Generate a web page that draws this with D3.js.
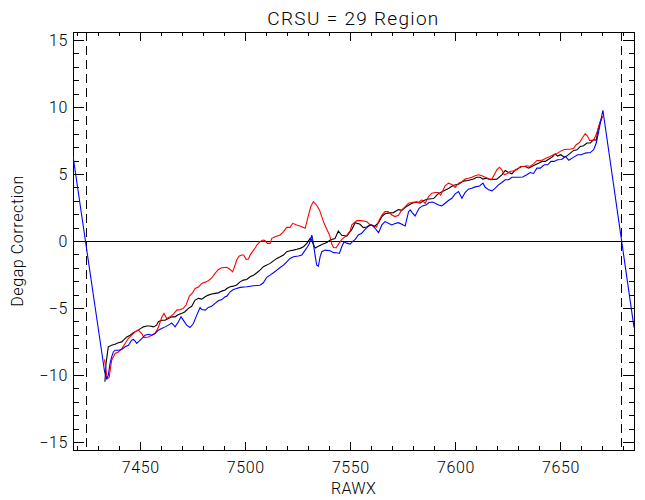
<!DOCTYPE html>
<html>
<head>
<meta charset="utf-8">
<script src="https://cdn.jsdelivr.net/npm/d3@7"></script>
<style>
  html, body { margin: 0; padding: 0; background: #fff; }
  svg { display: block; }
  text { font-family: Roboto, "Liberation Sans", Arial, sans-serif; font-weight: 300; fill: #000; }
</style>
</head>
<body>
<svg id="chart" width="645" height="500"></svg>
<script>
// ---------------- data ----------------
const titleText = "CRSU = 29 Region";
const xLabel = "RAWX";
const yLabel = "Degap Correction";
const xDomain = [7418, 7685];
const yDomain = [-15.6, 15.6];
const xMajorTicks = [7450, 7500, 7550, 7600, 7650];
const yMajorTicks = [-15, -10, -5, 0, 5, 10, 15];
const gapLines = [7424, 7679];

const blackSeries = [
[7433.2,-10.50],[7433.7,-9.15],[7434.8,-7.90],[7436.4,-7.78],[7438.0,-7.71],[7439.6,-7.60],[7441.2,-7.53],
[7442.4,-7.35],[7443.6,-7.16],[7445.2,-7.03],[7446.7,-6.85],[7448.3,-6.71],[7449.9,-6.56],[7451.5,-6.41],
[7453.1,-6.35],[7454.7,-6.35],[7456.3,-6.41],[7457.8,-6.28],[7458.6,-6.03],[7460.2,-5.91],[7461.8,-5.91],
[7463.4,-5.78],[7465.0,-5.66],[7466.6,-5.66],[7468.2,-5.49],[7469.7,-5.41],[7471.3,-5.28],[7472.9,-5.03],
[7474.5,-4.87],[7476.1,-4.41],[7477.7,-4.28],[7479.3,-4.34],[7480.9,-4.16],[7482.4,-4.04],[7484.0,-3.96],
[7485.6,-3.91],[7487.2,-3.87],[7488.8,-3.74],[7490.4,-3.66],[7491.2,-3.55],[7492.8,-3.42],[7494.3,-3.37],
[7495.9,-3.28],[7497.5,-3.05],[7499.1,-2.92],[7500.7,-2.87],[7502.3,-2.67],[7503.9,-2.55],[7505.5,-2.37],
[7507.0,-2.17],[7508.6,-1.92],[7510.2,-1.80],[7511.8,-1.67],[7513.4,-1.48],[7515.0,-1.30],[7516.6,-1.18],
[7518.2,-1.05],[7519.7,-0.80],[7521.3,-0.73],[7522.9,-0.68],[7524.5,-0.62],[7526.1,-0.55],[7527.7,-0.43],
[7529.3,-0.18],[7530.9,0.21],[7531.7,0.05],[7532.5,-0.31],[7533.3,-0.52],[7535.0,-0.37],[7536.7,-0.25],
[7538.8,-0.12],[7540.4,0.07],[7542.7,0.18],[7544.3,0.75],[7545.9,0.43],[7548.3,0.37],[7550.7,0.87],
[7552.3,1.37],[7554.6,1.25],[7556.2,1.00],[7557.8,1.04],[7559.4,1.20],[7561.8,1.12],[7563.4,1.37],
[7565.0,1.82],[7566.5,2.03],[7568.1,2.08],[7570.5,2.12],[7572.9,2.34],[7574.5,2.29],[7576.9,2.60],
[7579.3,2.82],[7581.6,2.92],[7583.2,2.82],[7584.8,3.00],[7586.4,3.12],[7589.6,3.17],[7591.9,3.54],
[7594.3,3.74],[7596.7,3.92],[7599.1,4.16],[7601.5,4.24],[7603.8,4.47],[7606.0,4.52],[7608.6,4.63],
[7610.2,4.76],[7611.8,4.76],[7613.1,4.62],[7615.0,4.69],[7616.6,4.57],[7619.7,4.62],[7622.1,4.94],
[7623.7,5.26],[7625.3,5.11],[7626.9,5.01],[7628.5,5.31],[7630.1,5.44],[7631.7,5.56],[7633.3,5.56],
[7634.8,5.44],[7636.4,5.56],[7638.0,5.69],[7639.6,5.81],[7641.2,5.94],[7642.8,5.94],[7644.4,6.10],
[7646.0,6.26],[7647.5,6.51],[7648.6,6.34],[7650.2,6.44],[7651.8,6.26],[7653.0,6.34],[7654.7,6.56],
[7656.3,6.76],[7657.9,6.81],[7659.4,7.06],[7661.0,7.11],[7662.6,7.31],[7664.2,7.31],[7665.8,7.56],
[7667.05,7.51],[7667.7,8.18],[7669.0,8.92],[7669.9,9.31]
];

const redSeries = [
[7433.0,-8.84],[7434.3,-10.28],[7435.2,-10.19],[7436.4,-8.90],[7438.0,-8.40],[7439.6,-8.28],[7441.2,-8.03],
[7442.8,-7.65],[7444.3,-7.28],[7445.9,-7.03],[7447.5,-6.78],[7449.1,-6.66],[7450.7,-6.91],[7451.8,-7.21],
[7453.9,-7.16],[7455.5,-7.03],[7457.0,-6.91],[7458.6,-6.46],[7460.2,-5.71],[7461.3,-5.41],[7462.6,-5.78],
[7464.2,-5.66],[7465.8,-5.46],[7467.4,-5.16],[7469.0,-5.12],[7470.5,-5.03],[7471.8,-4.78],[7473.4,-4.11],
[7475.0,-3.85],[7476.1,-3.54],[7477.7,-3.43],[7479.3,-3.17],[7480.9,-3.07],[7482.4,-2.96],[7484.0,-2.76],
[7485.6,-2.42],[7487.2,-2.12],[7488.8,-2.00],[7490.4,-1.98],[7491.2,-1.97],[7492.8,-2.13],[7494.0,-2.30],
[7495.0,-1.87],[7495.9,-1.42],[7497.0,-1.14],[7498.3,-1.05],[7499.2,-1.05],[7500.4,-1.37],[7501.5,-1.35],
[7502.3,-1.05],[7503.9,-0.68],[7504.7,-0.52],[7505.5,-0.30],[7507.0,-0.05],[7508.3,0.07],[7509.4,0.03],
[7510.5,-0.18],[7511.8,-0.18],[7512.6,0.20],[7514.2,0.32],[7516.6,0.45],[7518.2,0.70],[7519.7,1.02],
[7521.3,1.02],[7522.6,1.32],[7524.5,1.20],[7526.9,1.07],[7528.5,0.95],[7529.3,1.45],[7530.1,1.94],
[7531.2,2.57],[7532.4,2.94],[7533.9,2.69],[7535.3,2.32],[7536.4,1.82],[7537.5,1.32],[7538.8,0.87],
[7540.1,0.45],[7541.2,-0.25],[7542.0,-0.48],[7543.2,-0.50],[7544.3,-0.25],[7545.9,0.12],[7548.3,0.42],
[7549.9,0.75],[7550.7,1.20],[7553.1,1.52],[7555.0,1.52],[7557.8,1.45],[7559.4,1.20],[7561.0,1.12],
[7562.5,1.04],[7563.4,1.45],[7565.0,1.94],[7566.5,2.19],[7568.0,2.19],[7569.7,1.94],[7571.3,1.82],
[7572.9,1.92],[7574.5,2.32],[7576.1,2.57],[7577.7,2.82],[7579.2,2.87],[7580.8,2.91],[7582.4,2.87],
[7584.0,3.07],[7585.6,2.82],[7587.2,3.32],[7588.8,3.57],[7590.4,3.62],[7591.9,3.62],[7593.0,3.43],
[7595.1,4.12],[7596.7,4.32],[7598.3,4.21],[7599.9,4.00],[7601.5,4.32],[7603.1,4.42],[7604.6,4.62],
[7606.2,4.68],[7607.8,4.76],[7609.4,4.87],[7611.0,4.94],[7612.6,4.87],[7614.2,4.76],[7615.8,4.62],
[7617.4,4.62],[7618.5,4.94],[7619.7,5.31],[7621.0,5.51],[7622.1,5.31],[7623.2,4.94],[7624.8,5.04],
[7626.1,5.19],[7627.7,5.25],[7629.3,5.31],[7630.9,5.56],[7632.5,5.56],[7634.0,5.62],[7635.6,5.56],
[7637.2,5.76],[7638.8,6.01],[7640.4,6.01],[7641.7,6.06],[7643.3,6.19],[7645.1,6.31],[7646.7,6.44],
[7648.3,6.51],[7649.9,6.69],[7651.5,6.81],[7653.1,6.85],[7654.7,6.85],[7656.3,6.92],[7657.5,7.19],
[7659.1,7.35],[7660.7,7.76],[7661.8,8.01],[7662.9,7.81],[7663.9,7.51],[7665.0,7.51],[7665.8,7.56],
[7667.05,7.94],[7668.2,8.56],[7669.3,9.05],[7670.2,9.31]
];

const blueSeries = [
[7418.0,6.34],[7433.0,-9.72],[7434.0,-10.28],[7434.8,-10.03],[7435.6,-9.15],[7436.4,-8.65],[7437.2,-8.28],
[7438.0,-8.15],[7439.6,-8.15],[7441.2,-8.10],[7442.8,-7.90],[7444.4,-7.78],[7445.9,-7.40],[7446.7,-7.35],
[7447.5,-7.46],[7448.3,-7.65],[7449.1,-7.53],[7450.7,-7.28],[7452.3,-7.03],[7453.9,-6.96],[7455.5,-7.03],
[7457.0,-6.91],[7458.6,-6.66],[7460.2,-6.53],[7461.8,-6.41],[7463.4,-6.28],[7465.0,-6.12],[7466.6,-6.41],
[7468.2,-6.03],[7469.4,-5.66],[7470.5,-5.91],[7472.1,-6.28],[7473.7,-6.46],[7475.3,-6.16],[7476.9,-5.53],
[7478.5,-4.96],[7479.3,-5.12],[7480.9,-5.16],[7482.4,-4.96],[7484.0,-4.87],[7485.6,-4.66],[7487.2,-4.46],
[7488.8,-4.37],[7490.4,-4.16],[7491.2,-4.12],[7492.8,-3.79],[7494.3,-3.62],[7495.9,-3.54],[7497.5,-3.46],
[7500.7,-3.42],[7503.9,-3.34],[7507.0,-3.30],[7508.6,-3.12],[7510.2,-2.71],[7511.8,-2.55],[7513.4,-2.37],
[7515.0,-2.17],[7516.6,-1.98],[7518.2,-1.80],[7519.7,-1.55],[7521.3,-1.30],[7522.9,-1.18],[7525.3,-1.12],
[7526.9,-1.05],[7528.5,-0.68],[7529.6,-0.43],[7530.5,-0.18],[7531.7,0.45],[7532.4,-0.18],[7533.2,-1.05],
[7534.0,-1.80],[7534.8,-1.87],[7535.6,-1.18],[7536.4,-0.80],[7538.0,-0.68],[7540.4,-0.73],[7542.0,-0.87],
[7543.5,-0.88],[7544.8,-0.93],[7545.9,-0.43],[7547.0,-0.05],[7548.3,-0.16],[7549.9,-0.23],[7551.0,-0.05],
[7552.3,0.12],[7553.8,0.45],[7555.4,0.57],[7557.0,0.87],[7558.6,1.12],[7560.2,1.20],[7561.8,0.95],
[7563.4,0.62],[7565.0,1.20],[7566.5,1.45],[7568.1,1.32],[7569.7,1.20],[7571.3,1.30],[7572.9,1.37],
[7574.5,1.25],[7576.1,1.12],[7577.7,2.19],[7578.5,2.32],[7579.6,2.08],[7580.8,1.87],[7582.7,2.44],
[7584.3,2.62],[7585.9,2.69],[7587.5,2.87],[7589.0,2.91],[7590.4,2.82],[7592.0,2.69],[7593.5,2.62],
[7595.1,2.82],[7596.7,3.02],[7598.3,3.19],[7599.9,3.52],[7601.5,3.69],[7603.1,3.19],[7604.6,3.62],
[7606.2,3.87],[7607.8,3.94],[7609.4,4.04],[7611.5,4.11],[7613.1,4.32],[7614.2,4.01],[7615.8,3.82],
[7617.4,3.74],[7619.0,3.94],[7620.5,4.19],[7622.1,4.37],[7623.7,4.57],[7625.3,4.57],[7626.9,4.76],
[7630.1,4.76],[7632.0,4.78],[7634.0,4.94],[7635.6,5.11],[7637.2,5.04],[7638.8,5.44],[7640.4,5.44],
[7642.3,5.69],[7643.9,5.69],[7645.5,5.94],[7647.0,5.94],[7648.6,6.06],[7650.5,6.08],[7652.3,6.31],
[7654.0,6.03],[7656.3,6.26],[7658.2,6.44],[7660.0,6.44],[7661.8,6.56],[7664.2,6.60],[7665.8,6.81],
[7667.05,7.31],[7668.2,8.18],[7669.3,9.05],[7670.2,9.76],[7685.0,-6.45]
];

// ---------------- layout ----------------
const L = 73, R = 634, T = 32, B = 450;
const svg = d3.select("#chart");
const x = d3.scaleLinear().domain(xDomain).range([L, R]);
const y = d3.scaleLinear().domain(yDomain).range([B, T]);

const xMinor = d3.range(7420, 7685, 10).filter(v => !xMajorTicks.includes(v));
const yMinor = d3.range(-15, 16, 1).filter(v => !yMajorTicks.includes(v));

const majX = 8.5, minX = 4.3, majY = 11, minY = 5.5;

function axisGroup(axis, tx, ty) {
  const g = svg.append("g").attr("transform", `translate(${tx},${ty})`).call(axis);
  g.select(".domain").remove();
  g.selectAll("line").attr("stroke", "#000").attr("shape-rendering", "crispEdges");
  return g;
}

const fontFam = "Roboto, Liberation Sans, Arial, sans-serif";

// bottom
const gxb = axisGroup(d3.axisBottom(x).tickValues(xMajorTicks).tickSize(-majX).tickFormat(d3.format("d")), 0, B);
gxb.selectAll("text").attr("font-size", 16).attr("y", 12).attr("dy", "0.71em")
   .attr("font-family", fontFam).attr("font-weight", 300).attr("letter-spacing", "0.6px").attr("fill", "#000");
axisGroup(d3.axisBottom(x).tickValues(xMinor).tickSize(-minX).tickFormat(""), 0, B);
// top
axisGroup(d3.axisTop(x).tickValues(xMajorTicks).tickSize(-majX).tickFormat(""), 0, T);
axisGroup(d3.axisTop(x).tickValues(xMinor).tickSize(-minX).tickFormat(""), 0, T);
// left
const gyl = axisGroup(d3.axisLeft(y).tickValues(yMajorTicks).tickSize(-majY).tickFormat(d3.format("d")), L, 0);
gyl.selectAll("text").attr("font-size", 16).attr("x", -5)
   .attr("font-family", fontFam).attr("font-weight", 300).attr("letter-spacing", "0.6px").attr("fill", "#000");
axisGroup(d3.axisLeft(y).tickValues(yMinor).tickSize(-minY).tickFormat(""), L, 0);
// right
axisGroup(d3.axisRight(y).tickValues(yMajorTicks).tickSize(-majY).tickFormat(""), R, 0);
axisGroup(d3.axisRight(y).tickValues(yMinor).tickSize(-minY).tickFormat(""), R, 0);

// frame
svg.append("rect").attr("x", L + 0.5).attr("y", T + 0.5)
  .attr("width", R - L).attr("height", B - T)
  .attr("fill", "none").attr("stroke", "#000").attr("shape-rendering", "crispEdges");

// clip
svg.append("clipPath").attr("id", "plotclip").append("rect")
  .attr("x", L).attr("y", T).attr("width", R - L + 1).attr("height", B - T + 1);
const plot = svg.append("g").attr("clip-path", "url(#plotclip)");

// zero line
plot.append("line").attr("x1", x(xDomain[0])).attr("x2", x(xDomain[1]))
  .attr("y1", Math.round(y(0)) + 0.5).attr("y2", Math.round(y(0)) + 0.5)
  .attr("stroke", "#000").attr("shape-rendering", "crispEdges");

// dashed gap lines
plot.selectAll(".gap").data(gapLines).enter().append("line")
  .attr("x1", d => Math.round(x(d)) + 0.5).attr("x2", d => Math.round(x(d)) + 0.5)
  .attr("y1", T).attr("y2", B)
  .attr("stroke", "#000").attr("stroke-dasharray", "9,5").attr("shape-rendering", "crispEdges");

const line = d3.line().x(d => x(d[0])).y(d => y(d[1]));
[[blackSeries, "#000000"], [redSeries, "#ff0000"], [blueSeries, "#0000ff"]].forEach(([data, c]) => {
  plot.append("path").datum(data).attr("d", line)
    .attr("fill", "none").attr("stroke", c).attr("stroke-width", 1.1);
});

// titles
svg.append("text").attr("x", (L + R) / 2).attr("y", 25).attr("text-anchor", "middle")
  .attr("font-size", 19).attr("letter-spacing", "1.3px").text(titleText);
svg.append("text").attr("x", (L + R) / 2).attr("y", 494).attr("text-anchor", "middle")
  .attr("font-size", 16).attr("letter-spacing", "0.3px").text(xLabel);
svg.append("text").attr("transform", `translate(23,${(T + B) / 2}) rotate(-90)`)
  .attr("text-anchor", "middle").attr("font-size", 16).attr("letter-spacing", "0.6px").text(yLabel);
</script>
</body>
</html>
